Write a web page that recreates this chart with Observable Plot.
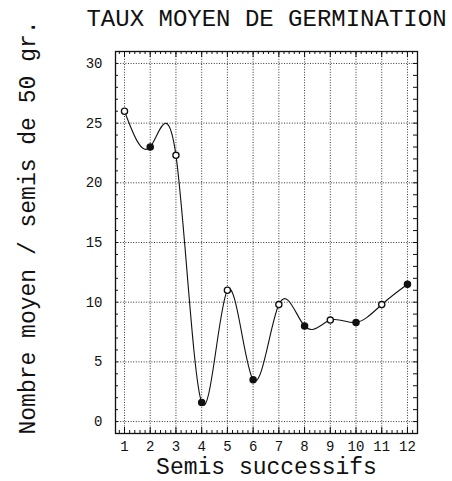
<!DOCTYPE html>
<html>
<head>
<meta charset="utf-8">
<script src="https://cdn.jsdelivr.net/npm/d3@7"></script>
<script src="https://cdn.jsdelivr.net/npm/@observablehq/plot@0.6"></script>
<style>
  html, body { margin: 0; padding: 0; background: #fff; }
  #chart svg { display: block; }
</style>
</head>
<body>
<div id="chart"></div>
<script>
// Data
const semis = [1, 2, 3, 4, 5, 6, 7, 8, 9, 10, 11, 12];
const moyenne = [26.0, 23.0, 22.3, 1.6, 11.0, 3.5, 9.8, 8.0, 8.5, 8.3, 9.8, 11.5];
const ouvert = [true, false, true, false, true, false, true, false, true, false, true, false];
const yTicks = [0, 5, 10, 15, 20, 25, 30];
const xTicks = [1, 2, 3, 4, 5, 6, 7, 8, 9, 10, 11, 12];
const titre = "TAUX MOYEN DE GERMINATION";
const titreX = "Semis successifs";
const titreY = "Nombre moyen / semis de 50 gr.";

const data = semis.map((s, i) => ({ s, v: moyenne[i], open: ouvert[i] }));

const W = 452, H = 481;
const mL = 115, mR = 35, mT = 51, mB = 48;
const fw = W - mL - mR, fh = H - mT - mB;
const xDom = [0.65, 12.39], yDom = [-1, 31];

const minorX = d3.range(Math.ceil(xDom[0] / 0.2) * 0.2, xDom[1], 0.2).map(v => +v.toFixed(2));
const minorY = d3.range(0, 31, 1);
const font = "'Liberation Mono', 'DejaVu Sans Mono', monospace";
const grid = { stroke: "#333", strokeWidth: 1, strokeDasharray: "1,1.6" };

const chart = Plot.plot({
  width: W, height: H,
  marginLeft: mL, marginRight: mR, marginTop: mT, marginBottom: mB,
  style: { fontFamily: font, background: "#fff", color: "#111" },
  x: { domain: xDom },
  y: { domain: yDom },
  marks: [
    Plot.ruleX(xTicks, grid),
    Plot.ruleY(yTicks, grid),
    // inward minor/major ticks on frame
    Plot.tickX(minorX, { x: d => d, insetTop: fh - 3, stroke: "#111" }),
    Plot.tickX(minorX, { x: d => d, insetBottom: fh - 3, stroke: "#111" }),
    Plot.tickX(xTicks, { x: d => d, insetTop: fh - 6, stroke: "#111" }),
    Plot.tickX(xTicks, { x: d => d, insetBottom: fh - 6, stroke: "#111" }),
    Plot.tickY(minorY, { y: d => d, insetRight: fw - 3, stroke: "#111" }),
    Plot.tickY(minorY, { y: d => d, insetLeft: fw - 4, stroke: "#111" }),
    Plot.frame({ stroke: "#111", strokeWidth: 1.3 }),
    Plot.axisY(yTicks, { tickSize: 0, tickPadding: 13, fontSize: 14, label: null }),
    Plot.axisX(xTicks, { tickSize: 0, tickPadding: 8, fontSize: 14, label: null }),
    Plot.line(data, { x: "s", y: "v", curve: "natural", stroke: "#111", strokeWidth: 1.1 }),
    Plot.dot(data, { x: "s", y: "v", r: 3.1, stroke: "#111", strokeWidth: 1.3,
      fill: d => d.open ? "#fff" : "#111" }),
    Plot.text([titre], { text: d => d, frameAnchor: "top", lineAnchor: "bottom", dy: -26,
      fontSize: 24, fill: "#111" }),
    Plot.text([titreX], { text: d => d, frameAnchor: "bottom", lineAnchor: "bottom", dy: 40,
      fontSize: 23, fill: "#111" }),
    Plot.text([titreY], { text: d => d, frameAnchor: "left", textAnchor: "middle", lineAnchor: "bottom",
      rotate: -90, dx: -81, dy: -15, fontSize: 23, fill: "#111" })
  ]
});
document.getElementById("chart").appendChild(chart);
</script>
</body>
</html>
